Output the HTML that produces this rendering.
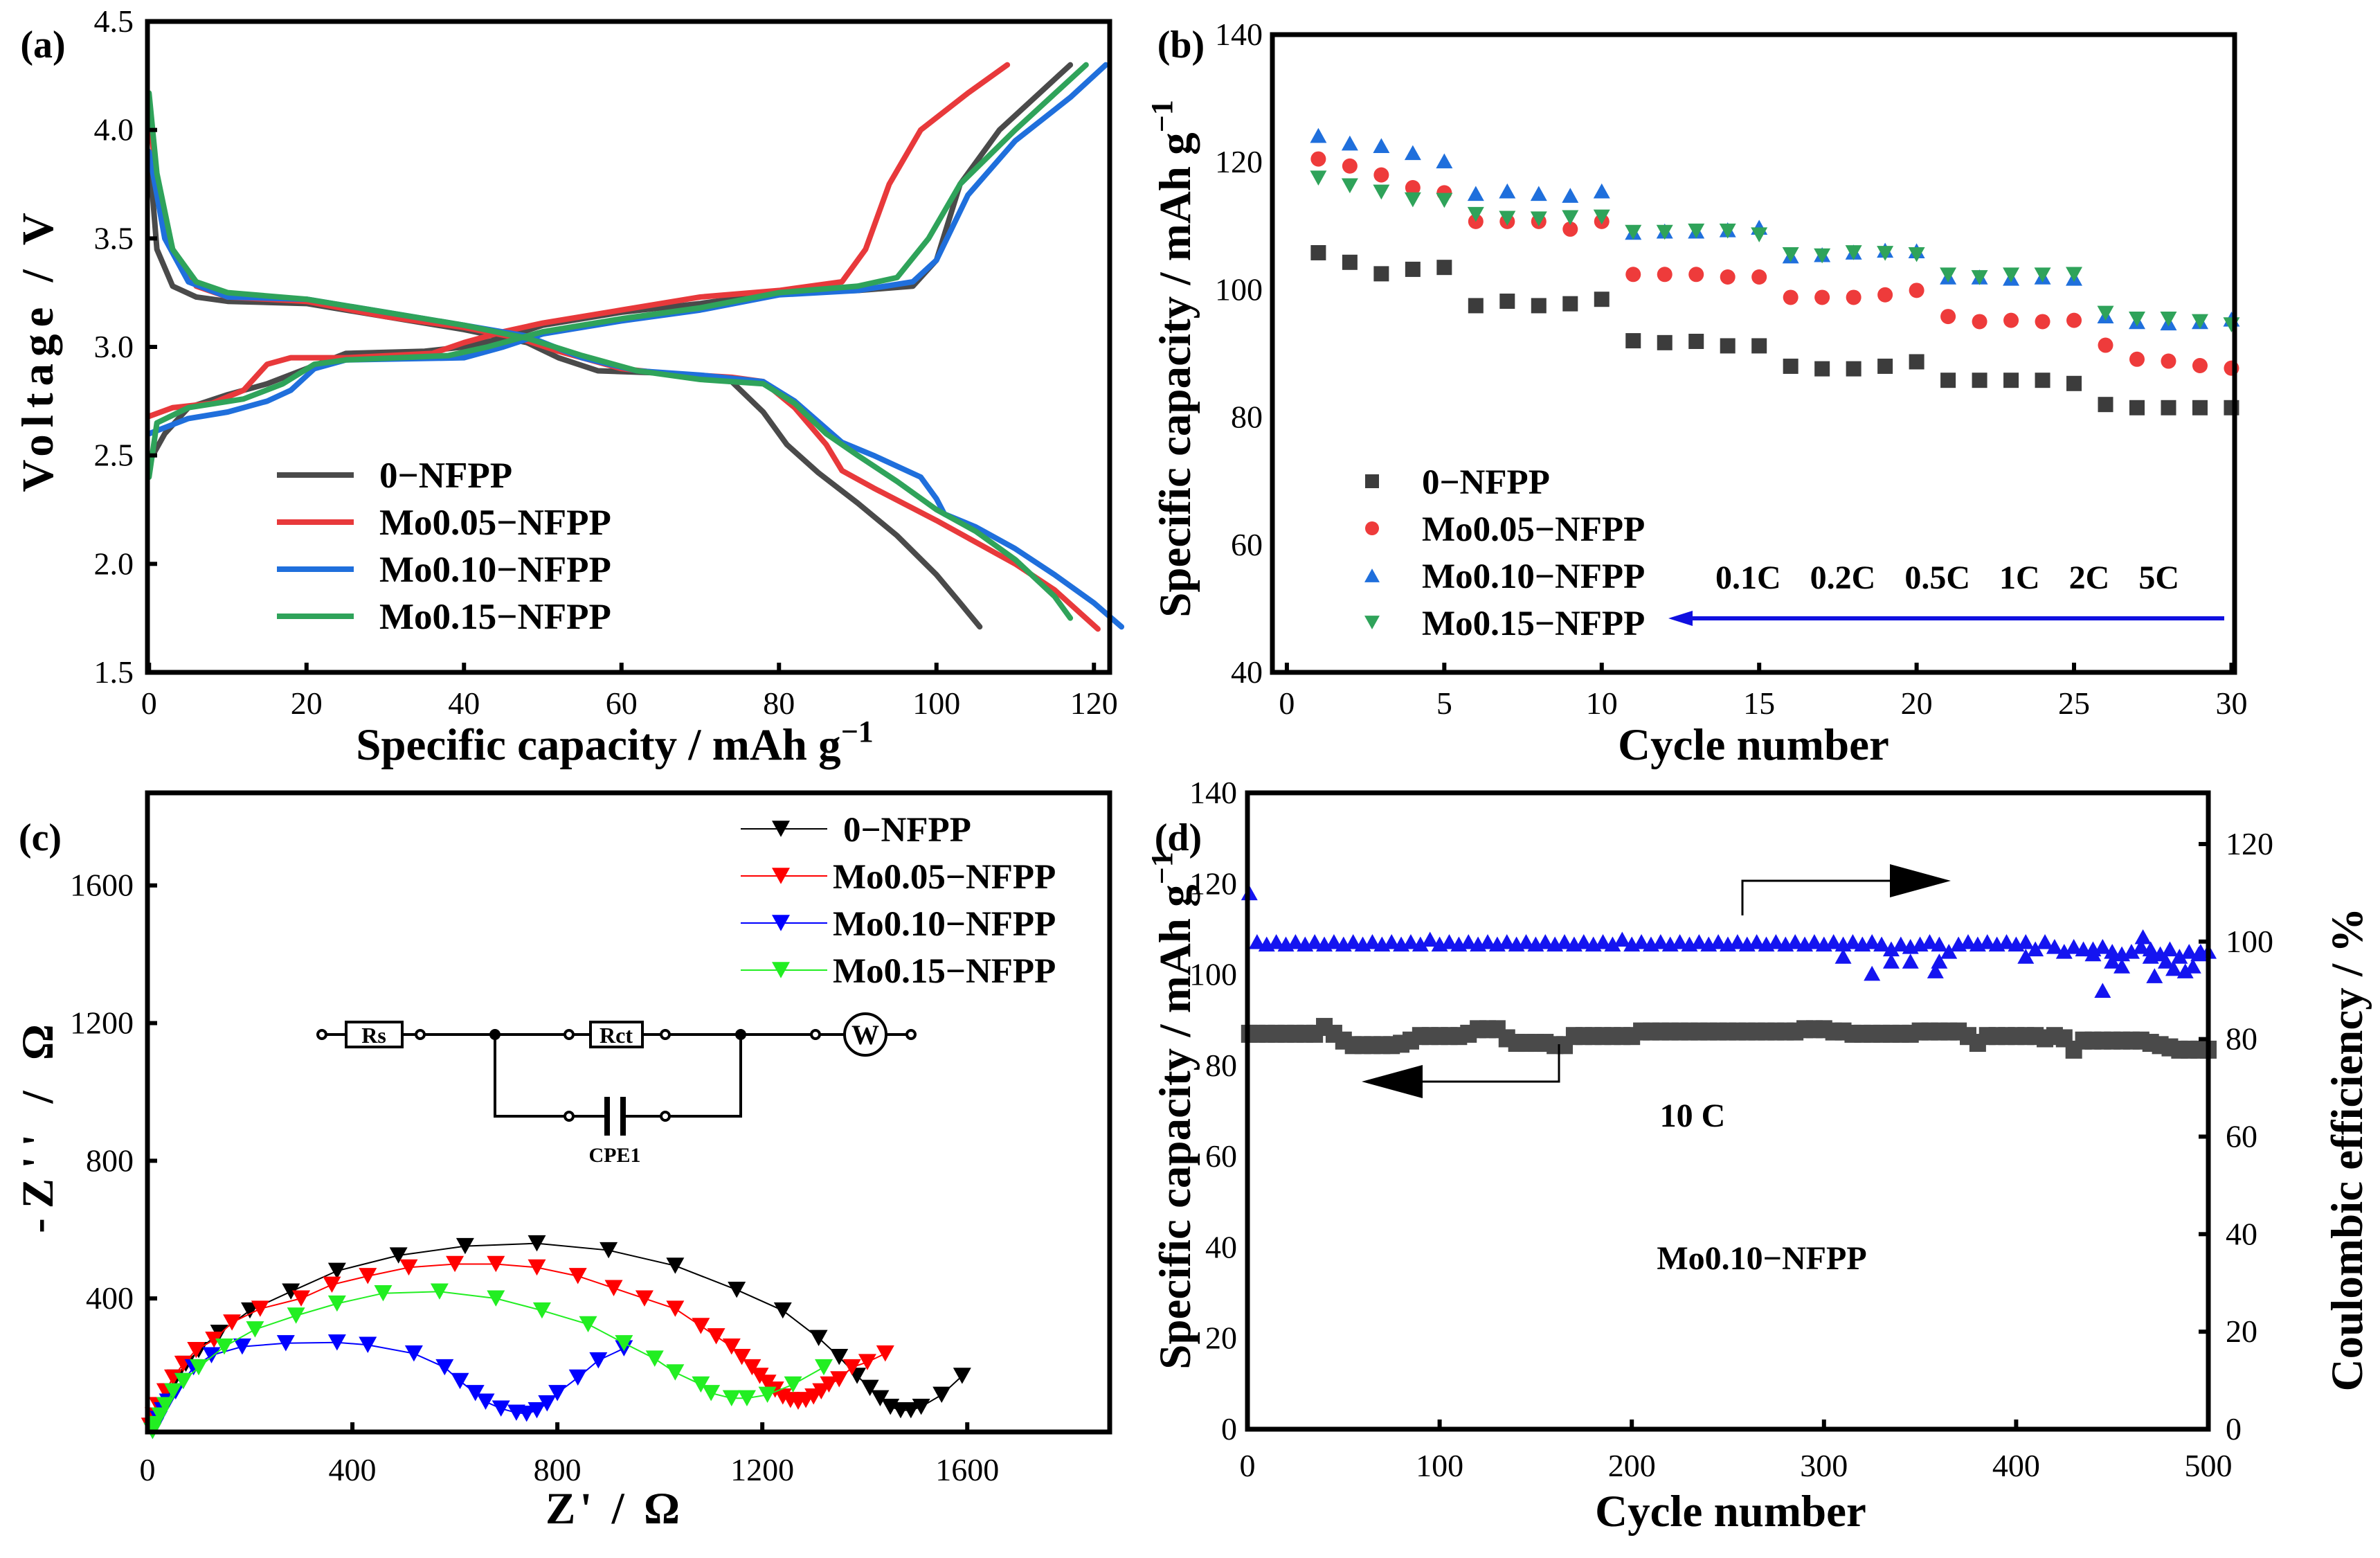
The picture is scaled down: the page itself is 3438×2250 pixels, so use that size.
<!DOCTYPE html>
<html><head><meta charset="utf-8">
<style>
html,body{margin:0;padding:0;background:#fff;}
svg{display:block;}
text{font-family:"Liberation Serif",serif;}
</style></head>
<body>
<svg id="fig" xmlns="http://www.w3.org/2000/svg" width="3438" height="2250" viewBox="0 0 3438 2250"></svg>
<script>
// ---------- Panel (a) data: galvanostatic curves ----------
const aSeries = ["0−NFPP","Mo0.05−NFPP","Mo0.10−NFPP","Mo0.15−NFPP"];
const aColors = ["#4a4a4a","#e8393b","#1f6fdc","#2fa35a"];
const a0Charge = [[0,2.47],[2,2.6],[5,2.72],[10,2.78],[15,2.83],[20,2.9],[25,2.97],[35,2.98],[40,3.0],[45,3.04],[50,3.1],[60,3.16],[70,3.2],[80,3.25],[90,3.26],[97,3.28],[100,3.4],[103,3.75],[108,4.0],[114,4.2],[117,4.3]];
const a0Dis = [[0,3.9],[1,3.45],[3,3.28],[6,3.23],[10,3.21],[20,3.2],[30,3.14],[40,3.08],[48,3.02],[52,2.95],[57,2.89],[65,2.88],[74,2.84],[78,2.7],[81,2.55],[85,2.42],[90,2.28],[95,2.13],[100,1.95],[103,1.82],[105.5,1.71]];
const a05Charge = [[0,2.68],[3,2.72],[8,2.74],[12,2.8],[15,2.92],[18,2.95],[25,2.95],[36,2.97],[40,3.02],[45,3.07],[50,3.11],[60,3.17],[70,3.23],[80,3.26],[88,3.3],[91,3.45],[94,3.75],[98,4.0],[104,4.17],[109,4.3]];
const a05Dis = [[0,4.1],[1,3.75],[3,3.45],[6,3.28],[10,3.23],[20,3.21],[30,3.14],[40,3.09],[47,3.04],[52,2.98],[60,2.9],[65,2.88],[74,2.86],[78,2.84],[82,2.72],[86,2.55],[88,2.43],[92,2.35],[100,2.2],[110,2.0],[115,1.88],[120.5,1.7]];
const a10Charge = [[0,2.6],[5,2.67],[10,2.7],[15,2.75],[18,2.8],[21,2.9],[25,2.94],[40,2.95],[45,3.0],[50,3.06],[60,3.12],[70,3.17],[80,3.24],[90,3.26],[97,3.3],[100,3.4],[104,3.7],[110,3.95],[117,4.15],[121.5,4.3]];
const a10Dis = [[0,3.9],[2,3.5],[5,3.3],[10,3.23],[20,3.22],[30,3.16],[40,3.1],[48,3.05],[55,2.95],[62,2.89],[70,2.87],[78,2.84],[82,2.75],[88,2.56],[92,2.5],[98,2.4],[100,2.3],[101,2.23],[105,2.17],[110,2.07],[115,1.95],[120,1.82],[123.5,1.71]];
const a15Charge = [[0,2.4],[1,2.65],[5,2.72],[12,2.76],[17,2.83],[21,2.92],[25,2.94],[38,2.96],[43,3.0],[50,3.07],[60,3.13],[70,3.18],[80,3.25],[90,3.28],[95,3.32],[99,3.5],[103,3.75],[110,4.0],[119,4.3]];
const a15Dis = [[0,4.17],[1,3.8],[3,3.45],[6,3.3],[10,3.25],[20,3.22],[30,3.16],[40,3.1],[48,3.04],[55,2.96],[62,2.89],[70,2.85],[78,2.83],[82,2.74],[86,2.6],[90,2.5],[95,2.38],[100,2.25],[105,2.15],[110,2.02],[115,1.85],[117,1.75]];
const aXTicks = [0,20,40,60,80,100,120];
const aYTicks = [1.5,2.0,2.5,3.0,3.5,4.0,4.5];

// ---------- Panel (b) data: rate performance ----------
const bCycles = [1,2,3,4,5,6,7,8,9,10,11,12,13,14,15,16,17,18,19,20,21,22,23,24,25,26,27,28,29,30];
const b0 = [105.8,104.3,102.5,103.2,103.5,97.5,98.2,97.5,97.8,98.5,92,91.7,91.9,91.2,91.2,88,87.6,87.6,88,88.7,85.8,85.8,85.8,85.8,85.3,82,81.5,81.5,81.5,81.5];
const b05 = [120.5,119.4,118,116,115.2,110.7,110.7,110.7,109.5,110.7,102.4,102.4,102.4,102,102,98.8,98.8,98.8,99.2,99.9,95.8,95,95.2,95,95.2,91.3,89.1,88.8,88.1,87.7];
const b10 = [124.2,123,122.6,121.5,120.2,115.1,115.5,115.1,114.8,115.5,109,109.2,109.2,109.4,109.8,105.3,105.5,105.9,106.2,106.1,102,102,101.8,102,101.8,95.9,95,94.8,95,95.4];
const b15 = [117.5,116.3,115.3,114.1,114,111.8,111.2,111.1,111.3,111.4,109,109,109.2,109.2,108.6,105.5,105.3,105.8,105.7,105.5,102.3,101.9,102.3,102.3,102.4,96.3,95.4,95.4,95,94.5];
const bXTicks = [0,5,10,15,20,25,30];
const bYTicks = [40,60,80,100,120,140];

// ---------- Panel (c) data: Nyquist ----------
const c0 = [[8,30],[15,60],[25,90],[40,130],[55,170],[75,210],[100,250],[140,300],[200,365],[280,420],[370,480],[490,525],[620,552],[760,560],[900,540],[1030,495],[1150,425],[1240,365],[1310,285],[1350,230],[1385,175],[1410,140],[1430,110],[1450,85],[1470,75],[1490,75],[1510,85],[1550,120],[1590,175]];
const c05 = [[5,30],[12,60],[20,90],[35,130],[50,170],[70,210],[95,250],[130,280],[165,330],[220,370],[300,400],[360,440],[430,465],[510,490],[600,500],[680,500],[760,490],[840,465],[910,430],[970,400],[1030,370],[1080,320],[1110,290],[1140,260],[1160,230],[1180,200],[1195,175],[1210,155],[1225,135],[1240,115],[1255,105],[1270,100],[1285,105],[1300,115],[1315,130],[1330,150],[1350,165],[1375,200],[1405,215],[1440,240]];
const c10 = [[10,15],[15,30],[22,50],[30,75],[40,100],[55,130],[70,160],[90,200],[125,235],[185,260],[270,270],[370,272],[430,265],[520,240],[580,200],[610,160],[640,125],[660,100],[690,80],[720,68],[740,65],[760,75],[780,95],[800,125],[840,170],[880,220],[930,255]];
const c15 = [[10,15],[15,35],[25,60],[35,90],[50,130],[70,160],[100,200],[150,260],[210,310],[290,350],[370,385],[460,415],[570,420],[680,400],[770,365],[860,325],[930,270],[990,225],[1030,185],[1080,150],[1100,125],[1140,110],[1170,110],[1210,120],[1260,150],[1320,200]];
const cColors = ["#000000","#ff0000","#0000ff","#22ee22"];
const cXTicks = [0,400,800,1200,1600];
const cYTicks = [400,800,1200,1600];

// ---------- Panel (d) data: long cycling (every 5 cycles, 0..500) ----------
const dCap = [87,87,87,87,87,87,87,87,88.5,87,85.5,84.5,84.5,84.5,84.5,84.5,84.8,85.5,86.5,86.5,86.5,86.5,86.5,87,88,88,88,86,85,85,85,85,84.5,84.5,86.5,86.5,86.5,86.5,86.5,86.5,86.5,87.5,87.5,87.5,87.5,87.5,87.5,87.5,87.5,87.5,87.5,87.5,87.5,87.5,87.5,87.5,87.5,87.5,88,88,88,87.5,87.5,87,87,87,87,87,87,87,87.5,87.5,87.5,87.5,87.5,86.5,85,86.5,86.5,86.5,86.5,86.5,86.5,86,86.5,86,83.5,85.5,85.5,85.5,85.5,85.5,85.5,85.5,85,84.5,84,83.5,83.5,83.5,83.5];
const dCE = [110,100,99.5,100,99.5,100,99.5,100,99.5,100,99.5,100,99.5,100,99.5,100,99.5,100,99.5,100.5,99.5,100,99.5,100,99.5,100,99.5,100,99.5,100,99.5,100,99.5,100,99.5,100,99.5,100,99.5,100.5,99.5,100,99.5,100,99.5,100,99.5,100,99.5,100,99.5,100,99.5,100,99.5,100,99.5,100,99.5,100,99.5,100,99.5,100,99.5,100,99.5,98.5,99.5,99,99.5,100,99.5,98,99.5,100,99.5,100,99.5,100,99.5,100,98.5,100,99,98,99,98.5,97.5,99,98,97.5,98,99,98.5,97.5,98.5,97,98,97.5,98];
const dOutCyc = [310,325,335,345,358,360,405,440,445,450,455,466,470,472,478,482,488,492,496];
const dOutCE = [97,93.5,96,96,94,96,97,98.5,90,96,95,101,97,93,96,94.5,94,95,98];
const dXTicks = [0,100,200,300,400,500];
const dYLTicks = [0,20,40,60,80,100,120,140];
const dYRTicks = [0,20,40,60,80,100,120];

// ---------- helpers ----------
const NS = "http://www.w3.org/2000/svg";
const svg = document.getElementById("fig");
function mk(tag, attrs, parent){
  const e = document.createElementNS(NS, tag);
  for (const k in attrs) e.setAttribute(k, attrs[k]);
  (parent||svg).appendChild(e);
  return e;
}
function lin(d0,d1,r0,r1){ return v => r0 + (v-d0)*(r1-r0)/(d1-d0); }
function txt(x,y,s,size,opts,parent){
  const e = mk("text",{x:x,y:y,"font-size":size,"text-anchor":(opts&&opts.anchor)||"middle","font-weight":(opts&&opts.bold)?"bold":"normal",fill:(opts&&opts.fill)||"#000"},parent);
  if (opts && opts.rot) e.setAttribute("transform","rotate("+opts.rot+" "+x+" "+y+")");
  e.textContent = s;
  return e;
}
function tri(x,y,s,down){
  const h = s*0.9;
  return down ? `M${x-s/2},${y-h/2} L${x+s/2},${y-h/2} L${x},${y+h/2} Z` : `M${x-s/2},${y+h/2} L${x+s/2},${y+h/2} L${x},${y-h/2} Z`;
}
function frame(P,name){
  const r = mk("rect",{x:P.L,y:P.T,width:P.R-P.L,height:P.B-P.T,fill:"none",stroke:"#000","stroke-width":7});
  
  
}

// ================= Panel (a) =================
const A = {L:213,R:1603,T:31,B:971};
const axA = lin(-0.2,122,A.L,A.R), ayA = lin(1.5,4.5,A.B,A.T);
const gA = mk("g",{});


const aAll = [[a0Charge,a0Dis],[a05Charge,a05Dis],[a10Charge,a10Dis],[a15Charge,a15Dis]];
aAll.forEach((pair,i)=>{
  pair.forEach((arr,j)=>{
    const p = mk("polyline",{points:arr.map(q=>axA(q[0])+","+ayA(q[1])).join(" "),fill:"none",stroke:aColors[i],"stroke-width":8,"stroke-linejoin":"round","stroke-linecap":"round"},gA);
    
    
  });
});
aXTicks.forEach(v=>{
  const t = mk("line",{x1:axA(v),x2:axA(v),y1:A.B,y2:A.B-14,stroke:"#000","stroke-width":6},gA);
  
  
  const l = txt(axA(v),1031,String(v),46,{},gA);
  
  
});
aYTicks.forEach(v=>{
  const t = mk("line",{x1:A.L,x2:A.L+14,y1:ayA(v),y2:ayA(v),stroke:"#000","stroke-width":6},gA);
  
  
  const l = txt(193,ayA(v)+15,v.toFixed(1),46,{anchor:"end"},gA);
  
  
});
frame(A,'plot-frame-a');
aSeries.forEach((s,i)=>{
  const y = 686 + i*68;
  const l = mk("line",{x1:400,x2:511,y1:y,y2:y,stroke:aColors[i],"stroke-width":8},gA);
  
  
  const t = txt(548,y+18,s,53,{anchor:"start",bold:true},gA);
  
  
});

// ================= Panel (b) =================
const B = {L:1838,R:3228,T:50,B:971};
const axB = lin(-0.46,30.1,B.L,B.R), ayB = lin(40,140,B.B,B.T);
const gB = mk("g",{});


const bData = [b0,b05,b10,b15];
function bMarker(k,x,y,s,parent){
  let e;
  if (k===0) e = mk("rect",{x:x-s/2,y:y-s/2,width:s,height:s,fill:"#3c3c3c"},parent);
  else if (k===1) e = mk("circle",{cx:x,cy:y,r:s/2,fill:"#ee3b3b"},parent);
  else if (k===2) e = mk("path",{d:tri(x,y,s+2,false),fill:"#1f6fdc"},parent);
  else e = mk("path",{d:tri(x,y,s+2,true),fill:"#2fa35a"},parent);
  return e;
}
bData.forEach((arr,k)=>{
  arr.forEach((v,i)=>{
    const m = bMarker(k,axB(bCycles[i]),ayB(v),22,gB);
    
    
  });
});
bXTicks.forEach(v=>{
  const t = mk("line",{x1:axB(v),x2:axB(v),y1:B.B,y2:B.B-14,stroke:"#000","stroke-width":6},gB);
  
  
  const l = txt(axB(v),1031,String(v),46,{},gB);
  
  
});
bYTicks.forEach(v=>{
  const l = txt(1824,ayB(v)+15,String(v),46,{anchor:"end"},gB);
  
  
});
frame(B,'plot-frame-b');
aSeries.forEach((s,i)=>{
  const y = 695 + i*68;
  const m = bMarker(i,1982,y,20,gB);
  
  
  const t = txt(2054,y+18,s,51,{anchor:"start",bold:true},gB);
  
  
});
const rates = txt(2478,850,"0.1C 0.2C 0.5C 1C 2C 5C",48,{anchor:"start",bold:true},gB);
rates.setAttribute("word-spacing","30");


const arrB = mk("line",{x1:3213,x2:2440,y1:893,y2:893,stroke:"#1010e0","stroke-width":6},gB);


const arrBh = mk("path",{d:"M2410,893 L2445,882 L2445,904 Z",fill:"#1010e0"},gB);



// ================= Panel (c) =================
const C = {L:213,R:1603,T:1145,B:2068};
const axC = lin(0,1878,C.L,C.R), ayC = lin(12,1869,C.B,C.T);
const gC = mk("g",{});


[c0,c05,c10,c15].forEach((arr,k)=>{
  const p = mk("polyline",{points:arr.map(q=>axC(q[0])+","+ayC(q[1])).join(" "),fill:"none",stroke:cColors[k],"stroke-width":2},gC);
  
  
  arr.forEach(q=>{
    const m = mk("path",{d:tri(axC(q[0]),ayC(q[1]),26,true),fill:cColors[k]},gC);
    
    
  });
});
cXTicks.forEach(v=>{
  const t = mk("line",{x1:axC(v),x2:axC(v),y1:C.B,y2:C.B-14,stroke:"#000","stroke-width":6},gC);
  
  
  const l = txt(axC(v),2138,String(v),46,{},gC);
  
  
});
cYTicks.forEach(v=>{
  const t = mk("line",{x1:C.L,x2:C.L+14,y1:ayC(v),y2:ayC(v),stroke:"#000","stroke-width":6},gC);
  
  
  const l = txt(193,ayC(v)+15,String(v),46,{anchor:"end"},gC);
  
  
});
frame(C,'plot-frame-c');
aSeries.forEach((s,i)=>{
  const y = 1197 + i*68;
  const l = mk("line",{x1:1070,x2:1195,y1:y,y2:y,stroke:cColors[i],"stroke-width":2},gC);
  
  
  const m = mk("path",{d:tri(1128,y,26,true),fill:cColors[i]},gC);
  
  
  const t = txt(i===0?1218:1203,y+18,s,51,{anchor:"start",bold:true},gC);
  
  
});
// equivalent circuit
const gCir = mk("g",{stroke:"#000","stroke-width":4,fill:"none"},gC);


const cy = 1494, cyl = 1612;
mk("line",{x1:465,x2:1316,y1:cy,y2:cy},gCir);
mk("polyline",{points:`715,${cy} 715,${cyl} 877,${cyl}`},gCir);
mk("polyline",{points:`1070,${cy} 1070,${cyl} 900,${cyl}`},gCir);
mk("rect",{x:500,y:cy-18,width:81,height:36,fill:"#fff"},gCir);
mk("rect",{x:853,y:cy-18,width:75,height:36,fill:"#fff"},gCir);
mk("circle",{cx:1250,cy:cy,r:30,fill:"#fff"},gCir);
[465,607,822,961,1178,1316].forEach(x=>mk("circle",{cx:x,cy:cy,r:6,fill:"#fff"},gCir));
[822,961].forEach(x=>mk("circle",{cx:x,cy:cyl,r:6,fill:"#fff"},gCir));
[715,1070].forEach(x=>mk("circle",{cx:x,cy:cy,r:6,fill:"#000"},gCir));
mk("line",{x1:877,x2:877,y1:cyl-28,y2:cyl+28,"stroke-width":8},gCir);
mk("line",{x1:900,x2:900,y1:cyl-28,y2:cyl+28,"stroke-width":8},gCir);
const t1 = txt(540,cy+12,"Rs",32,{bold:true},gC); t1.setAttribute("font-family","Liberation Sans, sans-serif");


const t2 = txt(890,cy+12,"Rct",32,{bold:true},gC); t2.setAttribute("font-family","Liberation Sans, sans-serif");


const t3 = txt(1250,cy+14,"W",40,{bold:true},gC); t3.setAttribute("font-family","Liberation Sans, sans-serif");


const t4 = txt(888,1678,"CPE1",30,{bold:true},gC); t4.setAttribute("font-family","Liberation Sans, sans-serif");



// ================= Panel (d) =================
const D = {L:1802,R:3190,T:1145,B:2064};
const axD = lin(0,500,D.L,D.R), ayDL = lin(0,140,D.B,D.T), ayDR = lin(0,130.5,D.B,D.T);
const gD = mk("g",{});


dCap.forEach((v,i)=>{
  const x = axD(i*5+(i===0?1:0)), y = ayDL(v);
  const m = mk("rect",{x:x-12,y:y-13,width:24,height:26,fill:"#4a4a4a"},gD);
  
  
});
dCE.forEach((v,i)=>{
  const x = axD(i*5+(i===0?1:0)), y = ayDR(v);
  const m = mk("path",{d:tri(x,y,24,false),fill:"#1414f0"},gD);
  
  
});
dOutCyc.forEach((c,i)=>{
  const m = mk("path",{d:tri(axD(c),ayDR(dOutCE[i]),24,false),fill:"#1414f0"},gD);
  
  
});
dXTicks.forEach(v=>{
  const t = mk("line",{x1:axD(v),x2:axD(v),y1:D.B,y2:D.B-14,stroke:"#000","stroke-width":6},gD);
  
  
  const l = txt(axD(v),2132,String(v),46,{},gD);
  
  
});
dYLTicks.forEach(v=>{
  const l = txt(1787,ayDL(v)+15,String(v),46,{anchor:"end"},gD);
  
  
});
dYRTicks.forEach(v=>{
  const t = mk("line",{x1:D.R,x2:D.R-14,y1:ayDR(v),y2:ayDR(v),stroke:"#000","stroke-width":6},gD);
  
  
  const l = txt(3215,ayDR(v)+15,String(v),46,{anchor:"start"},gD);
  
  
});
frame(D,'plot-frame-d');
const ar1 = mk("polyline",{points:"2517,1322 2517,1272 2730,1272",fill:"none",stroke:"#000","stroke-width":3},gD);


const ar1h = mk("path",{d:"M2818,1272 L2730,1248 L2730,1296 Z",fill:"#000"},gD);


const ar2 = mk("polyline",{points:"2252,1508 2252,1562 2050,1562",fill:"none",stroke:"#000","stroke-width":3},gD);


const ar2h = mk("path",{d:"M1967,1562 L2055,1538 L2055,1586 Z",fill:"#000"},gD);


const rateD = txt(2445,1627,"10 C",48,{bold:true},gD);


const sampD = txt(2545,1833,"Mo0.10−NFPP",48,{bold:true},gD);



// ================= Titles & panel labels =================
function title(x,y,main,sup,rot,name,ls){
  const e = txt(x,y,"",65,{bold:true,rot:rot});
  e.textContent = main;
  if (ls) e.setAttribute("letter-spacing", ls);
  if (sup){
    const ts = document.createElementNS(NS,"tspan");
    ts.setAttribute("dy","-26"); ts.setAttribute("font-size","44");
    ts.textContent = sup;
    e.appendChild(ts);
  }
  
  
}
title(888,1097,"Specific capacity / mAh  g","−1",0,'x-axis-title-a');
title(76,504,"Voltage / V","",-90,'y-axis-title-a',"10");
title(1719,518,"Specific capacity / mAh  g","−1",-90,'y-axis-title-b');
title(2533,1097,"Cycle number","",0,'x-axis-title-b');
title(76,1623,"-Z'' / Ω","",-90,'y-axis-title-c',"14");
title(888,2200,"Z' / Ω","",0,'x-axis-title-c',"6");
title(1719,1604,"Specific capacity / mAh  g","−1",-90,'y-axis-title-d-left');
title(3412,1660,"Coulombic efficiency / %","",-90,'y-axis-title-d-right');
title(2500,2204,"Cycle number","",0,'x-axis-title-d');
[["(a)",62,83],["(b)",1706,83],["(c)",58,1228],["(d)",1702,1228]].forEach(p=>{
  const e = txt(p[1],p[2],p[0],56,{bold:true});
  
  
});
</script>
</body></html>
